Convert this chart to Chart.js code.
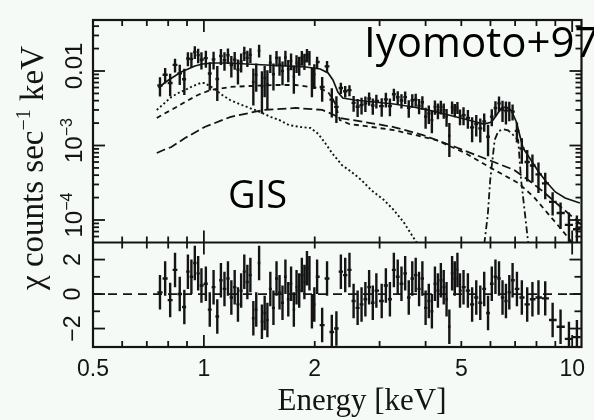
<!DOCTYPE html>
<html lang="en">
<head>
<meta charset="utf-8">
<title>GIS spectrum</title>
<script src="https://cdn.jsdelivr.net/npm/chart.js@4.4.1/dist/chart.umd.min.js"></script>
<style>
  html, body { margin: 0; padding: 0; background: #f6faf7; }
  canvas { display: block; }
</style>
</head>
<body>
<canvas id="spectrum" width="594" height="420"></canvas>
<script>
// GIS spectrum: bin centres (keV), count rate, 1-sigma error, chi residual
const binE = [
  0.760, 0.785, 0.810, 0.835, 0.860, 0.885, 0.905, 0.925, 0.945, 0.965, 0.985,
  1.0125, 1.0375, 1.0625, 1.0875, 1.1125, 1.1375, 1.1625, 1.1875, 1.2125, 1.2375,
  1.2625, 1.2875, 1.3125, 1.3375, 1.3625, 1.3875, 1.4125, 1.4375, 1.4625, 1.4875,
  1.515, 1.545, 1.575, 1.605, 1.635, 1.665, 1.695, 1.725, 1.755, 1.785,
  1.815, 1.845, 1.875, 1.905, 1.935, 1.965, 1.995,
  2.03, 2.095, 2.16, 2.225, 2.29, 2.355, 2.42, 2.485, 2.55, 2.615, 2.68, 2.745, 2.81, 2.875, 2.94,
  3.04, 3.12, 3.20, 3.28, 3.36, 3.44, 3.52, 3.60, 3.68, 3.76, 3.84, 3.92, 4.00,
  4.08, 4.16, 4.24, 4.32, 4.40, 4.48, 4.56, 4.64, 4.72, 4.80, 4.88, 4.96,
  5.07, 5.21, 5.35, 5.49, 5.63, 5.77, 5.91, 6.05, 6.19, 6.33, 6.47, 6.61, 6.75, 6.89,
  7.08, 7.30, 7.55, 7.80, 8.10, 8.45, 8.85, 9.30, 9.80, 10.30
];
const countRate = [
  0.00639, 0.00889, 0.00689, 0.01207, 0.0093, 0.00775, 0.01473, 0.01443, 0.01797, 0.01632, 0.01415,
  0.01487, 0.00927, 0.01434, 0.00781, 0.01587, 0.01395, 0.01626, 0.01203, 0.01422, 0.01041,
  0.01336, 0.01738, 0.0150, 0.01649, 0.00713, 0.00891, 0.01879, 0.00629, 0.00804, 0.0066,
  0.01297, 0.00904, 0.01499, 0.01215, 0.00995, 0.01521, 0.01056, 0.01369, 0.0084, 0.01288,
  0.01208, 0.01516, 0.01367, 0.01639, 0.01523, 0.00777, 0.00902,
  0.01318, 0.0061, 0.01152, 0.00413, 0.0033, 0.00592, 0.00536, 0.00553, 0.00373, 0.00331, 0.00348, 0.00368, 0.00427, 0.00344, 0.00397,
  0.00338, 0.00416, 0.00338, 0.00487, 0.00444, 0.00401, 0.00446, 0.00320, 0.00405, 0.00413, 0.00341, 0.00381, 0.00244,
  0.00269, 0.00219, 0.00330, 0.00295, 0.00330, 0.00297, 0.00244, 0.00135, 0.00326, 0.00300, 0.00324, 0.00246,
  0.00256, 0.00234, 0.00175, 0.00194, 0.00170, 0.00211, 0.00131, 0.00244, 0.00319, 0.00368, 0.00303, 0.00290, 0.00299, 0.00285,
  0.00157, 0.00091, 0.00060, 0.00054, 0.00041, 0.00031, 0.000175, 0.000124, 0.000086, 0.000075
];
const countErr = [
  0.00186, 0.0021, 0.00231, 0.00255, 0.00279, 0.003, 0.00318, 0.00333, 0.0035, 0.0036, 0.00369,
  0.00378, 0.00381, 0.00384, 0.00384, 0.00384, 0.00384, 0.00384, 0.00384, 0.00381, 0.00381,
  0.00378, 0.00375, 0.00372, 0.00372, 0.00369, 0.00366, 0.00366, 0.00363, 0.0036, 0.0036,
  0.00357, 0.00357, 0.00354, 0.00354, 0.00351, 0.00351, 0.00348, 0.00348, 0.00345, 0.00345,
  0.00342, 0.00342, 0.00339, 0.00339, 0.00336, 0.00333, 0.0033,
  0.00238, 0.00222, 0.0021, 0.00176, 0.0013, 0.00101, 0.00095, 0.00093, 0.0009, 0.00089, 0.00088, 0.00087, 0.00086, 0.00085, 0.00084,
  0.00094, 0.00093, 0.00091, 0.0009, 0.00089, 0.00087, 0.00086, 0.00084, 0.00083, 0.00081, 0.00079, 0.00078, 0.00076,
  0.00075, 0.00073, 0.00072, 0.0007, 0.00069, 0.00068, 0.00066, 0.00065, 0.00063, 0.00061, 0.0006, 0.00059,
  0.00069, 0.00066, 0.00064, 0.00062, 0.0006, 0.00058, 0.00059, 0.00062, 0.00074, 0.00087, 0.00097, 0.00099, 0.00087, 0.00069,
  0.00047, 0.00034, 0.00027, 0.00022, 0.00018, 0.00012, 0.00006, 0.000048, 0.00004, 0.00004
];
const chiResid = [
  0.1, 0.9, -0.35, 1.4, 0.0, -0.75, 1.3, 1.0, 1.8, 1.2, 0.5,
  0.6, -0.9, 0.4, -1.3, 0.8, 0.3, 0.9, -0.2, 0.4, -0.6,
  0.2, 1.3, 0.7, 1.1, -1.4, -0.9, 1.8, -1.6, -1.1, -1.5,
  0.3, -0.8, 0.9, 0.1, -0.5, 1.0, -0.3, 0.6, -0.9, 0.4,
  0.2, 1.1, 0.7, 1.5, 1.2, -1.0, -0.6,
  1.0, -1.8, 0.9, -2.2, -2.0, 1.3, 1.1, 1.4, -0.4, -0.8, -0.6, -0.3, 0.4, -0.5, 0.2,
  -0.4, 0.5, -0.3, 1.4, 1.0, 0.6, 1.2, -0.2, 0.9, 1.1, 0.3, 0.9, -0.8,
  -0.4, -1.0, 0.6, 0.2, 0.8, 0.4, -0.3, -1.9, 1.2, 0.9, 1.4, 0.2,
  0.4, 0.2, -0.6, -0.2, -0.5, 0.3, -1.1, 0.6, 1.0, 0.9, -0.2, -0.4, 0.1, 0.8,
  0.3, -0.2, -0.6, -0.3, -0.2, -0.25, -1.5, -1.9, -2.6, -2.5
];
const chiErr = 1;

// folded model: total and its components
const totalE = [0.753, 0.787, 0.826, 0.867, 0.906, 0.945, 0.993, 1.055, 1.157, 1.308, 1.478, 1.671, 1.889, 2.07, 2.174,
  2.241, 2.311, 2.383, 2.565, 2.899, 3.277, 3.704, 4.187, 4.733, 5.348, 5.756, 6.046, 6.232, 6.426, 6.626,
  6.833, 7.047, 7.357, 7.726, 8.113, 8.517, 9.0, 9.569, 10.49];
const totalModel = [0.00591, 0.00712, 0.00831, 0.0097, 0.01064, 0.01167, 0.01241, 0.0128, 0.0128, 0.01241, 0.01204, 0.01167, 0.01132, 0.01064, 0.0094,
  0.00757, 0.00523, 0.00434, 0.00408, 0.00384, 0.00361, 0.00329, 0.0029, 0.00249, 0.00213, 0.00194, 0.00207, 0.00257, 0.00319, 0.00329,
  0.00295, 0.0021, 0.000925, 0.000639, 0.000441, 0.000324, 0.000238, 0.000197, 0.000169];

const softE = [0.745, 0.777, 0.816, 0.852, 0.889, 0.934, 0.981, 1.005, 1.036, 1.069, 1.122, 1.178, 1.268, 1.332, 1.416, 1.524,
  1.601, 1.702, 1.832, 1.947, 2.045, 2.134, 2.228, 2.369, 2.518, 2.677, 2.846, 3.082, 3.277, 3.484, 3.773, 3.95];
const softModel = [0.0030, 0.00361, 0.00448, 0.00507, 0.00556, 0.00629, 0.0069, 0.0069, 0.00629, 0.00573, 0.00476, 0.00408, 0.0035, 0.00319, 0.00282, 0.00241,
  0.0022, 0.00188, 0.00177, 0.00172, 0.00143, 0.00108, 0.000793, 0.000547, 0.000441, 0.000344, 0.000253, 0.000186, 0.000136, 0.000094, 0.0000507, 0.000042];

const scatE = [0.745, 0.777, 0.816, 0.852, 0.889, 0.963, 1.043, 1.178, 1.332, 1.571, 1.776, 2.045, 2.174, 2.269, 2.340,
  2.487, 2.727, 3.277, 4.264, 5.124, 6.158, 7.134, 7.869, 8.570, 9.280, 9.870, 10.17];
const scatModel = [0.00234, 0.00265, 0.0030, 0.00339, 0.00384, 0.00476, 0.00556, 0.0061, 0.00629, 0.00649, 0.00649, 0.00591, 0.00523, 0.00372, 0.0022,
  0.00194, 0.00183, 0.00161, 0.00119, 0.000793, 0.000469, 0.000314, 0.000204, 0.000124, 0.0000781, 0.0000539, 0.0000421];

const hardE = [0.745, 0.777, 0.816, 0.889, 1.005, 1.178, 1.452, 1.776, 2.096, 2.228, 2.340, 2.727, 3.277, 3.938, 4.819,
  5.936, 6.960, 7.726, 8.365, 9.111, 9.870, 10.62];
const hardModel = [0.000793, 0.00087, 0.000954, 0.00126, 0.00177, 0.00241, 0.0030, 0.00319, 0.0030, 0.00265, 0.00234, 0.00207, 0.00177, 0.00138, 0.000954,
  0.000639, 0.000469, 0.000324, 0.000238, 0.000164, 0.000117, 0.0000857];

const lineE = [5.72, 5.79, 5.90, 5.99, 6.16, 6.30, 6.50, 6.70, 6.90, 7.134, 7.267, 7.45, 7.58, 7.68];
const lineModel = [0.00003, 0.000054, 0.000117, 0.000344, 0.00119, 0.00155, 0.00165, 0.0016, 0.0014, 0.00119, 0.000344, 0.000117, 0.000054, 0.00003];

// axes
const xTickValues = [0.5, 1, 2, 5, 10];
const xTickText = ['0.5', '1', '2', '5', '10'];
const xMajorMarks = [1, 10];
const xMinorMarks = [0.6, 0.7, 0.8, 0.9, 2, 3, 4, 5, 6, 7, 8, 9];
const yTickValues = [0.01, 0.001, 0.0001];
const yTickText = [['0.01', ''], ['10', '\u22123'], ['10', '\u22124']];
const yMajorMarks = [0.0001, 0.001, 0.01];
const yMinorMarks = [0.00006, 0.00007, 0.00008, 0.00009,
  0.0002, 0.0003, 0.0004, 0.0005, 0.0006, 0.0007, 0.0008, 0.0009,
  0.002, 0.003, 0.004, 0.005, 0.006, 0.007, 0.008, 0.009, 0.02, 0.03, 0.04];
const chiTickValues = [2, 0, -2];
const chiTickText = ['2', '0', '\u22122'];
const chiMarks = [-2, -1, 0, 1, 2];

const ink = '#141414';
const serif = '"Liberation Serif", "DejaVu Serif", serif';
const sans = '"Liberation Sans", Arial, sans-serif';

function pairs(xs, ys) {
  return xs.map((x, i) => ({ x: x, y: ys[i] }));
}

// data crosses: bin width horizontally, error bar vertically, broken by null gaps
function crosses(values, errs, floor) {
  const pts = [];
  binE.forEach((e, i) => {
    const lo = i > 0 ? (binE[i - 1] + e) / 2 : e - (binE[1] - e) / 2;
    const hi = i < binE.length - 1 ? (e + binE[i + 1]) / 2 : e + (e - binE[i - 1]) / 2;
    const v = values[i];
    const d = typeof errs === 'number' ? errs : errs[i];
    const low = floor === undefined ? v - d : Math.max(v - d, floor);
    pts.push({ x: lo, y: v }, { x: hi, y: v }, { x: hi, y: null });
    pts.push({ x: e, y: low }, { x: e, y: v + d }, { x: e, y: null });
  });
  return pts;
}

function modelLine(data, dash, width) {
  return {
    data: data, yAxisID: 'y', borderColor: ink, borderWidth: width || 1.6,
    borderDash: dash, pointRadius: 0, fill: false, tension: 0
  };
}

function seg(ctx, x1, y1, x2, y2) {
  ctx.beginPath();
  ctx.moveTo(x1, y1);
  ctx.lineTo(x2, y2);
  ctx.stroke();
}

// text running bottom-to-top, centred on cy with its baseline at cx
function drawUpright(ctx, cx, cy, parts) {
  ctx.save();
  ctx.translate(cx, cy);
  ctx.rotate(-Math.PI / 2);
  ctx.textAlign = 'left';
  ctx.textBaseline = 'alphabetic';
  let w = 0;
  parts.forEach(p => { ctx.font = p.font; p.w = ctx.measureText(p.text).width; w += p.w; });
  let pos = -w / 2;
  parts.forEach(p => {
    ctx.font = p.font;
    ctx.fillText(p.text, pos, -(p.rise || 0));
    pos += p.w;
  });
  ctx.restore();
}

const axisFrame = {
  id: 'axisFrame',
  afterDatasetsDraw(chart) {
    const { ctx, chartArea: a } = chart;
    const { x, y, y2 } = chart.scales;
    const mid = y.bottom;
    ctx.save();
    ctx.strokeStyle = ink;
    ctx.lineWidth = 1.8;
    xMinorMarks.concat(xMajorMarks).forEach(v => {
      const px = x.getPixelForValue(v);
      const len = xMajorMarks.includes(v) ? 12 : 6;
      seg(ctx, px, a.top, px, a.top + len);
      seg(ctx, px, mid - len, px, mid + len);
      seg(ctx, px, a.bottom, px, a.bottom - len);
    });
    yMinorMarks.concat(yMajorMarks).forEach(v => {
      const py = y.getPixelForValue(v);
      const len = yMajorMarks.includes(v) ? 12 : 6;
      seg(ctx, a.left, py, a.left + len, py);
      seg(ctx, a.right, py, a.right - len, py);
    });
    chiMarks.forEach(v => {
      const py = y2.getPixelForValue(v);
      const len = v % 2 === 0 ? 12 : 7;
      seg(ctx, a.left, py, a.left + len, py);
      seg(ctx, a.right, py, a.right - len, py);
    });
    ctx.lineWidth = 2.2;
    ctx.strokeRect(a.left, a.top, a.right - a.left, a.bottom - a.top);
    seg(ctx, a.left, mid, a.right, mid);
    ctx.restore();
  },
  afterDraw(chart) {
    const { ctx } = chart;
    const { y, y2 } = chart.scales;
    ctx.save();
    ctx.fillStyle = ink;
    yTickValues.forEach((v, i) => {
      const parts = [{ text: yTickText[i][0], font: '24px ' + sans }];
      if (yTickText[i][1]) parts.push({ text: yTickText[i][1], font: '16px ' + sans, rise: 10 });
      drawUpright(ctx, 82, y.getPixelForValue(v) - 5, parts);
    });
    chiTickValues.forEach((v, i) => {
      drawUpright(ctx, 80, y2.getPixelForValue(v), [{ text: chiTickText[i], font: '23px ' + sans }]);
    });
    drawUpright(ctx, 43, 168, [
      { text: '\u03c7 counts sec', font: '33px ' + serif },
      { text: '\u22121', font: '20px ' + serif, rise: 13 },
      { text: ' keV', font: '33px ' + serif }
    ]);
    ctx.textAlign = 'center';
    ctx.textBaseline = 'alphabetic';
    ctx.font = '31px ' + serif;
    ctx.fillText('Energy [keV]', 362, 410);
    ctx.textAlign = 'left';
    ctx.fillStyle = '#000';
    ctx.font = '42px "Open Sans", sans-serif';
    ctx.fillText('Iyomoto+97', 364, 57);
    ctx.font = '38px "Open Sans", sans-serif';
    ctx.fillText('GIS', 228, 208);
    ctx.restore();
  }
};

new Chart(document.getElementById('spectrum'), {
  type: 'line',
  data: {
    datasets: [
      {
        data: crosses(countRate, countErr, 1e-7), yAxisID: 'y', borderColor: ink, borderWidth: 2.4,
        pointRadius: 0, spanGaps: false, fill: false
      },
      modelLine(pairs(totalE, totalModel), [], 1.7),
      modelLine(pairs(softE, softModel), [2, 2.5], 1.9),
      modelLine(pairs(scatE, scatModel), [5, 4], 1.8),
      modelLine(pairs(hardE, hardModel), [9, 4], 1.8),
      modelLine(pairs(lineE, lineModel), [7, 3, 2, 3], 1.8),
      {
        data: crosses(chiResid, chiErr), yAxisID: 'y2', borderColor: ink, borderWidth: 2.4,
        pointRadius: 0, spanGaps: false, fill: false
      },
      {
        data: [{ x: 0.5, y: 0 }, { x: 10.6, y: 0 }], yAxisID: 'y2', borderColor: ink, borderWidth: 1.7,
        borderDash: [9, 6], pointRadius: 0, fill: false
      }
    ]
  },
  options: {
    responsive: false,
    animation: false,
    events: [],
    layout: { padding: { top: 20, right: 2, left: 0, bottom: 0 }, autoPadding: false },
    plugins: { legend: { display: false }, tooltip: { enabled: false } },
    scales: {
      x: {
        type: 'logarithmic', min: 0.5, max: 10.6,
        grid: { display: false, drawTicks: false },
        border: { display: false },
        afterBuildTicks: s => { s.ticks = xTickValues.map(v => ({ value: v })); },
        afterFit: s => { s.height = 73; },
        ticks: {
          autoSkip: false, maxRotation: 0, minRotation: 0, padding: 9, color: ink,
          font: { family: sans, size: 23 },
          callback: (v, i) => xTickText[i]
        }
      },
      y: {
        type: 'logarithmic', position: 'left', stack: 'panels', stackWeight: 222.5, weight: 1,
        min: 4.99e-5, max: 0.04837,
        ticks: { display: false },
        grid: { display: false, drawTicks: false },
        border: { display: false },
        afterFit: s => { s.width = 93; }
      },
      y2: {
        type: 'linear', position: 'left', stack: 'panels', stackWeight: 104.5, weight: 0,
        min: -3.07, max: 2.99,
        ticks: { display: false },
        grid: { display: false, drawTicks: false },
        border: { display: false },
        afterFit: s => { s.width = 93; }
      }
    }
  },
  plugins: [axisFrame]
});
</script>
</body>
</html>
